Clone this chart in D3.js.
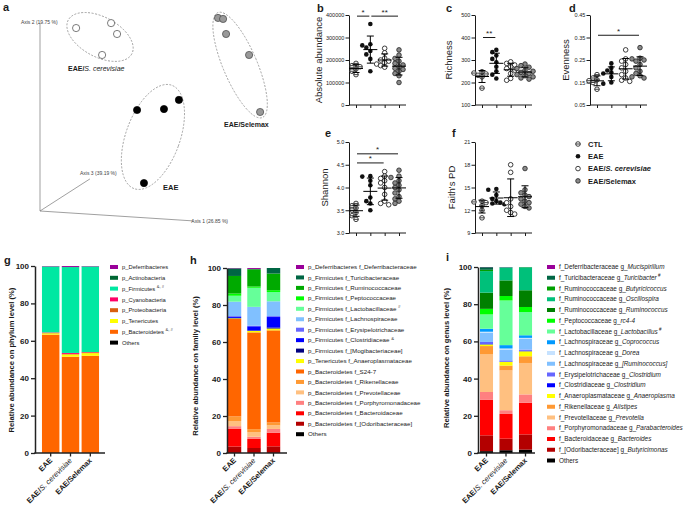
<!DOCTYPE html>
<html><head><meta charset="utf-8">
<script src="https://cdn.jsdelivr.net/npm/d3@7"></script>
<style>body{margin:0;background:#fff}svg{display:block;font-family:Arial,"Liberation Sans",sans-serif}</style>
</head><body><svg id="c" width="685" height="507"></svg>
<script>
// ================= DATA =================
// Panel a – PCoA (projected coordinates, unitless)
const pcoaAxisLabels = ["Axis 1 (26.85 %)", "Axis 2 (19.75 %)", "Axis 3 (39.19 %)"];
const pcoaScer = [[0.157,0.924],[0.309,0.949],[0.335,0.894],[0.270,0.788]];
const pcoaEAE  = [[0.422,0.510],[0.539,0.515],[0.604,0.561],[0.452,0.141]];
const pcoaSel  = [[0.774,0.975],[0.796,0.970],[0.809,0.894],[0.909,0.788],[0.957,0.500]];

// Panels b–f – alpha diversity
const groupNames = ["CTL","EAE","EAE/S. cerevisiae","EAE/Selemax"];
const absoluteAbundance = [
  [185000,175000,170000,160000,150000,135000],
  [360000,270000,265000,255000,240000,225000,205000,150000],
  [252000,232000,208000,200000,195000,188000,182000,175000,168000],
  [245000,222000,207000,195000,185000,178000,170000,163000,158000,150000,140000,130000,100000]
];
const richness = [
  [248,242,238,232,225,175],
  [345,335,320,305,290,270,250,235,218],
  [292,285,278,270,262,255,240,218,210],
  [282,275,268,262,255,250,245,240,235,230,225,220,215]
];
const evenness = [
  [0.185,0.17,0.162,0.158,0.15,0.12],
  [0.235,0.215,0.203,0.195,0.19,0.175,0.15,0.145],
  [0.295,0.255,0.245,0.23,0.215,0.2,0.185,0.17,0.16,0.155],
  [0.305,0.258,0.255,0.25,0.245,0.23,0.215,0.2,0.19,0.18,0.175,0.17]
];
const shannon = [
  [3.65,3.6,3.55,3.5,3.45,3.38,3.3],
  [4.25,4.24,4.15,4.05,3.78,3.7,3.65,3.5],
  [4.35,4.25,4.2,4.15,4.1,4.0,3.85,3.7,3.65,3.62],
  [4.38,4.25,4.22,4.15,4.1,4.05,4.0,3.95,3.88,3.8,3.75,3.7,3.65]
];
const faithPD = [
  [13.2,13.1,13.0,12.6,12.0,11.0],
  [14.8,14.7,14.0,13.5,13.2,13.0,12.9,12.8],
  [18.0,17.0,13.5,13.0,12.5,12.0,11.7,11.5],
  [17.5,14.7,14.3,14.0,13.8,13.5,13.2,13.0,12.8,12.5,12.3]
];
const absTicks = [0,100000,200000,300000,400000];
const richTicks = [100,200,300,400,500];
const evenTicks = [0.05,0.15,0.25,0.35,0.45];
const shanTicks = [3.0,3.5,4.0,4.5,5.0];
const faithTicks = [9,12,15,18,21];
// significance: [groupA, groupB, level, label]
const sigAbs = [[0,1,395000,"*"],[1,3,395000,"**"]];
const sigRich = [[0,1,400,"**"]];
const sigEven = [[0,3,0.36,"*"]];
const sigShan = [[0,3,4.74,"*"],[0,2,4.54,"*"]];
const sigFaith = [];

// Panels g–i – relative abundance (%), taxa listed top (legend order) to bottom
const barGroups = ["EAE","EAE/S. cerevisiae","EAE/Selemax"];
const phylumNames = ["p_Deferribacteres","p_Actinobacteria","p_Firmicutes","p_Cyanobacteria","p_Proteobacteria","p_Tenericutes","p_Bacteroidetes","Others"];
const phylumMarks = ["","","&, #","","","","&, #",""];
const phylumValues = [
  [0.2,0.5,0.2],
  [0.1,0.1,0.1],
  [35.2,45.9,45.7],
  [0.2,0.5,0.2],
  [0.3,0.3,0.4],
  [0.7,1.2,1.4],
  [63.3,51.5,52.0],
  [0,0,0]
];
const familyNames = ["p_Deferribacteres f_Deferribacteraceae","p_Firmicutes f_Turicibacteraceae","p_Firmicutes f_Ruminococcaceae","p_Firmicutes f_Peptococcaceae","p_Firmicutes f_Lactobacillaceae","p_Firmicutes f_Lachnospiraceae","p_Firmicutes f_Erysipelotrichaceae","p_Firmicutes f_Clostridiaceae","p_Firmicutes f_[Mogibacteriaceae]","p_Tenericutes f_Anaeroplasmataceae","p_Bacteroidetes f_S24-7","p_Bacteroidetes f_Rikenellaceae","p_Bacteroidetes f_Prevotellaceae","p_Bacteroidetes f_Porphyromonadaceae","p_Bacteroidetes f_Bacteroidaceae","p_Bacteroidetes f_[Odoribacteraceae]","Others"];
const familyMarks = ["","","","","#","","","&","","","","","","","","",""];
const familyValues = [
  [0.2,0.5,0.0],
  [4.1,0.2,3.0],
  [9.5,9.3,9.0],
  [1.2,0.7,1.0],
  [3.2,10.3,5.0],
  [7.8,10.2,8.0],
  [0.5,0.3,0.5],
  [0.5,2.3,5.7],
  [0.2,0.2,0.5],
  [0.3,0.8,1.0],
  [52.7,52.3,49.8],
  [2.5,1.6,1.5],
  [2.8,2.5,2.0],
  [1.5,1.2,2.0],
  [9.5,4.9,7.4],
  [3.5,2.7,3.6],
  [0,0,0]
];
const genusFamilies = ["f_Deferribacteraceae","f_Turicibacteraceae","f_Ruminococcaceae","f_Ruminococcaceae","f_Ruminococcaceae","f_Peptococcaceae","f_Lactobacillaceae","f_Lachnospiraceae","f_Lachnospiraceae","f_Lachnospiraceae","f_Erysipelotrichaceae","f_Clostridiaceae","f_Anaeroplasmataceae","f_Rikenellaceae","f_Prevotellaceae","f_Porphyromonadaceae","f_Bacteroidaceae","f_[Odoribacteraceae]","Others"];
const genusNames = ["Mucispirillum","Turicibacter","Butyricicoccus","Oscillospira","Ruminococcus","rc4-4","Lactobacillus","Coprococcus","Dorea","[Ruminococcus]","Clostridium","Clostridium","Anaeroplasma","Alistipes","Prevotella","Parabacteroides","Bacteroides","Butyricimonas",""];
const genusMarks = ["","#","","","","","#","","","","","","","","","","","",""];
const genusValues = [
  [0.1,0.1,0.0],
  [1.4,0.1,0.1],
  [0.7,0.0,0.1],
  [11.6,7.0,12.3],
  [8.7,8.4,9.0],
  [3.0,2.4,2.7],
  [7.7,24.0,12.5],
  [1.6,1.8,1.4],
  [0.5,0.6,0.4],
  [5.0,5.8,5.9],
  [1.1,0.6,0.7],
  [0.2,0.2,0.2],
  [0.9,2.0,2.7],
  [4.5,2.6,3.6],
  [20.2,21.4,16.9],
  [4.1,2.0,4.5],
  [19.2,13.3,17.0],
  [8.5,6.2,8.2],
  [1.0,1.5,1.8]
];

// ================= STYLES =================
const phylumColors = ["#990099","#006633","#00E8A2","#FF0066","#D95F0E","#FFFF00","#FF6600","#000000"];
const familyColors = ["#990099","#006644","#00AA00","#00FF00","#66FF99","#80C0FF","#6666FF","#0000FF","#000080","#FFFF00","#FF6600","#FF9933","#FFC080","#FF8080","#FF0000","#B30000","#000000"];
const genusColors = ["#990099","#006644","#00A000","#00C07A","#008000","#00FF00","#66FF99","#0099FF","#C6E2FF","#80C0FF","#6666FF","#0000FF","#FFFF00","#FF9933","#FFC080","#FF8080","#FF0000","#B30000","#000000"];
const INK = "#1a1a1a";
const FONT = "Arial, 'Liberation Sans', sans-serif";

const svg = d3.select("#c");
svg.append("rect").attr("width",685).attr("height",507).attr("fill","#fff");

function letter(t,x,y){
  svg.append("text").attr("x",x).attr("y",y).attr("font-size",11).attr("font-weight","bold").attr("fill",INK).text(t);
}

// ================= PANEL a =================
(function(){
  const g = svg.append("g");
  const px = d3.scaleLinear().domain([0,1]).range([40,270]);
  const py = d3.scaleLinear().domain([0,1]).range([211,13]);
  const ox = px(0), oy = py(0);
  const axisEnds = [[0.665,-0.05],[0,0.951],[0.217,0.162]];
  axisEnds.forEach(e=>{
    g.append("line").attr("x1",ox).attr("y1",oy).attr("x2",px(e[0])).attr("y2",py(e[1]))
      .attr("stroke","#777").attr("stroke-width",0.7);
  });
  const lab = (t,x,y)=>g.append("text").attr("x",x).attr("y",y).attr("font-size",5).attr("fill","#444").text(t);
  lab(pcoaAxisLabels[0], px(0.658), py(-0.055)+1.5);
  lab(pcoaAxisLabels[1], px(-0.083), py(0.951)+1.5);
  lab(pcoaAxisLabels[2], px(0.174), py(0.18));

  const ellipses = [
    {c:[0.261,0.879], rx:36, ry:20, a:28},
    {c:[0.491,0.374], rx:27, ry:55, a:20},
    {c:[0.870,0.737], rx:17, ry:57, a:-23}
  ];
  ellipses.forEach(e=>{
    g.append("ellipse").attr("cx",0).attr("cy",0).attr("rx",e.rx).attr("ry",e.ry)
      .attr("transform",`translate(${px(e.c[0])},${py(e.c[1])}) rotate(${e.a})`)
      .attr("fill","none").attr("stroke","#888").attr("stroke-width",0.7).attr("stroke-dasharray","2,1.5");
  });
  const pts = (arr,fill,stroke)=>g.selectAll(null).data(arr).enter().append("circle")
      .attr("cx",d=>px(d[0])).attr("cy",d=>py(d[1])).attr("r",3.6)
      .attr("fill",fill).attr("stroke",stroke).attr("stroke-width",0.7);
  pts(pcoaScer,"#fff","#444");
  pts(pcoaEAE,"#000","#000");
  pts(pcoaSel,"#999","#444");

  const t1 = g.append("text").attr("x",68).attr("y",71).attr("font-size",7).attr("fill",INK);
  t1.append("tspan").attr("font-weight","bold").text("EAE/");
  t1.append("tspan").attr("font-style","italic").text("S. cerevisiae");
  g.append("text").attr("x",163).attr("y",190).attr("font-size",7.5).attr("font-weight","bold").attr("fill",INK).text("EAE");
  g.append("text").attr("x",224).attr("y",127).attr("font-size",7).attr("font-weight","bold").attr("fill",INK).text("EAE/Selemax");
})();
letter("a",3,11);

// ================= PANELS b–f =================
function marker(sel, type, cx, cy, r){
  if(type===1){
    sel.append("circle").attr("cx",cx).attr("cy",cy).attr("r",r).attr("fill","#111");
  } else if(type===3){
    sel.append("circle").attr("cx",cx).attr("cy",cy).attr("r",r).attr("fill","#8a8a8a").attr("stroke","#222").attr("stroke-width",0.8);
  } else {
    sel.append("circle").attr("cx",cx).attr("cy",cy).attr("r",r).attr("fill","#fff").attr("stroke","#111").attr("stroke-width",0.8);
    if(type===0) sel.append("line").attr("x1",cx-r).attr("x2",cx+r).attr("y1",cy).attr("y2",cy).attr("stroke","#111").attr("stroke-width",0.8);
  }
}
function swarm(vals, y, r){
  const placed=[];
  vals.forEach(v=>{
    const py=y(v); let dx=0;
    for(let k=0;k<20;k++){
      const c = k===0?0:(k%2?-1:1)*Math.ceil(k/2)*r*1.75;
      if(placed.every(p=>Math.hypot(p[0]-c,p[1]-py)>=r*1.85)){dx=c;break;}
    }
    placed.push([dx,py]);
  });
  return placed;
}
function dotPanel(o){
  const g = svg.append("g");
  const y = d3.scaleLinear().domain(d3.extent(o.ticks)).range([o.yBot,o.yTop]);
  const x = d3.scalePoint().domain(d3.range(groupNames.length)).range([o.x0+7,o.x0+50]);
  const ya = g.append("g").attr("transform",`translate(${o.x0},0)`)
    .call(d3.axisLeft(y).tickValues(o.ticks).tickFormat(o.fmt).tickSize(3.5).tickSizeOuter(0).tickPadding(1.2));
  ya.select(".domain").attr("stroke",INK).attr("stroke-width",1);
  ya.selectAll(".tick line").attr("stroke",INK).attr("stroke-width",1);
  ya.selectAll("text").attr("font-size",5.5).attr("font-family",FONT).attr("fill",INK);
  const xa = g.append("g").attr("transform",`translate(0,${o.yBot})`)
    .call(d3.axisBottom(x).tickSize(3).tickFormat(""));
  xa.select(".domain").remove();
  xa.selectAll(".tick line").attr("stroke",INK).attr("stroke-width",1);
  g.append("line").attr("x1",o.x0).attr("x2",o.x0+57).attr("y1",o.yBot).attr("y2",o.yBot).attr("stroke",INK).attr("stroke-width",1);
  g.append("text").attr("transform",`translate(${o.titleX},${(o.yTop+o.yBot)/2}) rotate(-90)`)
    .attr("text-anchor","middle").attr("font-size",9.5).attr("fill",INK).text(o.title);
  const r = 2.3;
  o.data.forEach((vals,i)=>{
    const sorted = vals.slice().sort((a,b)=>b-a);
    const pos = swarm(sorted, y, r);
    pos.forEach(p=>marker(g, i, x(i)+p[0], p[1], r));
    const m = d3.mean(vals), s = d3.deviation(vals), cx = x(i);
    const eb = g.append("g").attr("stroke","#000").attr("stroke-width",1);
    eb.append("line").attr("x1",cx-7).attr("x2",cx+7).attr("y1",y(m)).attr("y2",y(m));
    eb.append("line").attr("x1",cx).attr("x2",cx).attr("y1",y(m+s)).attr("y2",y(m-s));
    eb.append("line").attr("x1",cx-3.5).attr("x2",cx+3.5).attr("y1",y(m+s)).attr("y2",y(m+s));
    eb.append("line").attr("x1",cx-3.5).attr("x2",cx+3.5).attr("y1",y(m-s)).attr("y2",y(m-s));
  });
  o.sig.forEach(s=>{
    const yy = y(s[2]);
    g.append("line").attr("x1",x(s[0])+1).attr("x2",x(s[1])-1).attr("y1",yy).attr("y2",yy).attr("stroke",INK).attr("stroke-width",1);
    g.append("text").attr("x",(x(s[0])+x(s[1]))/2).attr("y",yy-1.5).attr("text-anchor","middle").attr("font-size",8).attr("fill",INK).text(s[3]);
  });
  letter(o.letter, o.lx, o.ly);
}
const fmtInt = d3.format("d");
dotPanel({x0:349,yTop:15,yBot:105,ticks:absTicks,fmt:fmtInt,data:absoluteAbundance,sig:sigAbs,title:"Absolute abundance",titleX:322,letter:"b",lx:317,ly:12});
dotPanel({x0:475,yTop:15,yBot:105,ticks:richTicks,fmt:fmtInt,data:richness,sig:sigRich,title:"Richness",titleX:452,letter:"c",lx:446,ly:12});
dotPanel({x0:590,yTop:15,yBot:105,ticks:evenTicks,fmt:d3.format(".2f"),data:evenness,sig:sigEven,title:"Evenness",titleX:569,letter:"d",lx:569,ly:12});
dotPanel({x0:349,yTop:142,yBot:233,ticks:shanTicks,fmt:d3.format(".1f"),data:shannon,sig:sigShan,title:"Shannon",titleX:328,letter:"e",lx:325,ly:137});
dotPanel({x0:475,yTop:142,yBot:233,ticks:faithTicks,fmt:fmtInt,data:faithPD,sig:sigFaith,title:"Faith's PD",titleX:455,letter:"f",lx:452,ly:137});

// legend b–f
(function(){
  const g = svg.append("g");
  groupNames.forEach((n,i)=>{
    const yy = 144 + i*12.3;
    marker(g, i, 578, yy, 2.3);
    const t = g.append("text").attr("x",588).attr("y",yy+2.7).attr("font-size",7.5).attr("font-weight","bold").attr("fill",INK);
    if(n.indexOf("S. cerevisiae")>=0){
      t.append("tspan").text("EAE/");
      t.append("tspan").attr("font-style","italic").text("S. cerevisiae");
    } else t.text(n);
  });
})();

// ================= PANELS g–i =================
function stackPanel(o){
  const g = svg.append("g");
  const y = d3.scaleLinear().domain([0,100]).range([o.yBot,o.yTop]);
  const x = d3.scaleBand().domain(barGroups).range(o.xr).paddingInner(o.pi).paddingOuter(o.po);
  const keys = o.values.map((_,i)=>i).reverse(); // bottom first
  const rows = barGroups.map((bg,j)=>{const r={group:bg}; o.values.forEach((v,k)=>r[k]=v[j]); return r;});
  const series = d3.stack().keys(keys)(rows);
  series.forEach(s=>{
    g.selectAll(null).data(s).enter().append("rect")
      .attr("x",d=>x(d.data.group)).attr("width",x.bandwidth())
      .attr("y",d=>y(d[1])).attr("height",d=>Math.max(0,y(d[0])-y(d[1])))
      .attr("fill",o.colors[s.key]);
  });
  const ya = g.append("g").attr("transform",`translate(${o.x0},0)`)
    .call(d3.axisLeft(y).tickValues([0,20,40,60,80,100]).tickSize(4).tickSizeOuter(0).tickPadding(2));
  ya.select(".domain").attr("stroke","#222").attr("stroke-width",1.5);
  ya.selectAll(".tick line").attr("stroke","#222").attr("stroke-width",1.3);
  ya.selectAll("text").attr("font-size",8).attr("font-weight","bold").attr("font-family",FONT).attr("fill",INK);
  g.append("line").attr("x1",o.x0-0.75).attr("x2",o.xEnd).attr("y1",o.yBot).attr("y2",o.yBot).attr("stroke","#222").attr("stroke-width",1.5);
  barGroups.forEach(bg=>{
    const cx = x(bg)+x.bandwidth()/2;
    g.append("line").attr("x1",cx).attr("x2",cx).attr("y1",o.yBot).attr("y2",o.yBot+3.5).attr("stroke","#222").attr("stroke-width",1.3);
    const t = g.append("text").attr("transform",`translate(${cx+2},${o.yBot+8}) rotate(-45)`)
      .attr("text-anchor","end").attr("font-size",7.5).attr("fill",INK);
    if(bg.indexOf("S. cerevisiae")>=0){
      t.append("tspan").attr("font-weight","bold").text("EAE/");
      t.append("tspan").attr("font-style","italic").text("S. cerevisiae");
    } else t.attr("font-weight","bold").text(bg);
  });
  g.append("text").attr("transform",`translate(${o.titleX},${o.titleY}) rotate(-90)`)
    .attr("text-anchor","middle").attr("font-size",7.6).attr("font-weight","bold").attr("fill",INK).text(o.title);
  // legend
  o.labels.forEach((lb,k)=>{
    const yy = o.ly + k*o.ldy;
    g.append("rect").attr("x",o.lx).attr("y",yy-2).attr("width",8).attr("height",4).attr("fill",o.colors[k]);
    const t = g.append("text").attr("x",o.lx+12).attr("y",yy+2.1).attr("font-size",o.lfs).attr("fill",INK);
    lb.forEach(part=>{
      const ts = t.append("tspan").text(part.t);
      if(part.i) ts.attr("font-style","italic");
      if(part.sup) ts.attr("font-size",o.lfs*0.7).attr("dy",-2.5);
    });
  });
  letter(o.letter,o.lxL,o.lyL);
}
const phylumLabels = phylumNames.map((n,k)=>phylumMarks[k]?[{t:n+" "},{t:phylumMarks[k],sup:true}]:[{t:n}]);
const familyLabels = familyNames.map((n,k)=>familyMarks[k]?[{t:n+" "},{t:familyMarks[k],sup:true}]:[{t:n}]);
const genusLabels = genusFamilies.map((f,k)=>{
  if(!genusNames[k]) return [{t:f}];
  const parts=[{t:f+"  g_"},{t:genusNames[k],i:true}];
  if(genusMarks[k]) parts.push({t:" "+genusMarks[k],sup:true});
  return parts;
});

stackPanel({x0:35,xEnd:105,xr:[38,103],pi:0.12,po:0.2,yTop:266,yBot:453,values:phylumValues,colors:phylumColors,
  title:"Relative abundance on phylum level (%)",titleX:14,titleY:360,labels:phylumLabels,lx:110,ly:267,ldy:10.8,lfs:5.8,
  letter:"g",lxL:4,lyL:264});
stackPanel({x0:227,xEnd:287,xr:[227,281],pi:0.31,po:0.04,yTop:268,yBot:453,values:familyValues,colors:familyColors,
  title:"Relative abundance on family level (%)",titleX:198,titleY:366,labels:familyLabels,lx:296,ly:267,ldy:10.45,lfs:6.2,
  letter:"h",lxL:190,lyL:264});
stackPanel({x0:478,xEnd:535,xr:[478,534],pi:0.33,po:0.1,yTop:267,yBot:453,values:genusValues,colors:genusColors,
  title:"Relative abundance on genus level (%)",titleX:449,titleY:358,labels:genusLabels,lx:547,ly:267,ldy:10.75,lfs:6.4,
  letter:"i",lxL:446,lyL:261});
</script></body></html>
